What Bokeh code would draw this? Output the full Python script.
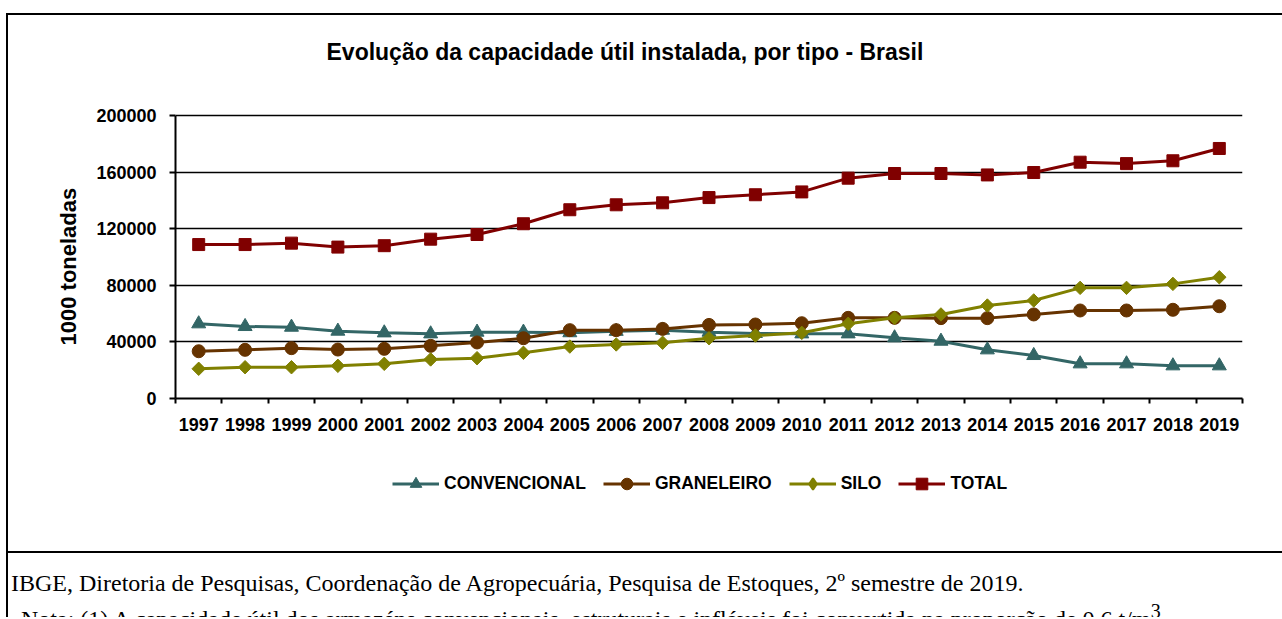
import numpy as np
from bokeh.plotting import figure
from bokeh.models import (ColumnDataSource, FixedTicker, BasicTickFormatter, Legend,
                          LegendItem, Range1d, Div, CustomJSTickFormatter, Title)
from bokeh.layouts import column, row
from bokeh.embed import file_html
from bokeh.resources import INLINE

# ---------------- data ----------------
years = [str(y) for y in range(1997, 2020)]
convencional = [52800, 50900, 50400, 47600, 46400, 45700, 46900, 46900, 46500, 47500,
                48300, 46900, 46000, 45700, 45700, 42900, 40500, 34400, 30400, 24500,
                24500, 23100, 23100]
graneleiro = [33400, 34400, 35600, 34600, 35100, 37200, 39600, 42600, 48300, 48300,
              49200, 52000, 52300, 53200, 57000, 57000, 56800, 56800, 59400, 62200,
              62200, 62700, 65200]
silo = [21000, 22100, 22100, 23100, 24500, 27600, 28500, 32300, 36700, 38200,
        39400, 42600, 44500, 46400, 52800, 57000, 59400, 65700, 69300, 78200,
        78200, 81000, 85700]
total = [108800, 108800, 109800, 107000, 108000, 112600, 115900, 123500, 133400, 136900,
         138300, 142000, 144000, 146000, 155700, 159000, 159000, 158000, 159700, 167000,
         166000, 168000, 176700]
y_ticks = [0, 40000, 80000, 120000, 160000, 200000]
series_names = ["CONVENCIONAL", "GRANELEIRO", "SILO", "TOTAL"]

title_text = "Evolução da capacidade  útil instalada,  por tipo - Brasil"
y_label = "1000 toneladas"
source_text = "IBGE, Diretoria de Pesquisas, Coordenação de Agropecuária, Pesquisa de Estoques, 2º semestre de 2019."
note_text = "Nota: (1) A capacidade útil dos armazéns convencionais, estruturais e infláveis foi convertida na proporção de 0,6 t/m<sup>3</sup>."

# ---------------- styles ----------------
colors = ["#336666", "#663300", "#808000", "#800000"]
FONT = "Liberation Sans"
fields = ["conv", "gran", "silo", "total"]
markers = ["triangle", "circle", "square", "square"]
angles = [0, 0, np.pi / 4, 0]
sizes = [14, 13, 9.5, 12]
legend_markers = ["triangle", "circle", "diamond", "square"]

# layout geometry (pixels)
FRAME_TOP, FRAME_BOTTOM, AXIS_TOP_PX = 70, 383, 100   # axis top (200000) sits at 100px
y_max = y_ticks[-1]
y_range_end = y_max * (FRAME_BOTTOM - FRAME_TOP) / (FRAME_BOTTOM - AXIS_TOP_PX)

x = np.arange(len(years)) + 0.5
src = ColumnDataSource(dict(x=x, conv=convencional, gran=graneleiro, silo=silo, total=total))

# ---------------- main chart ----------------
p = figure(width=1274, height=425, x_range=Range1d(0, len(years)),
           y_range=Range1d(0, y_range_end),
           output_backend="svg", toolbar_location=None,
           min_border_left=167, min_border_right=40, min_border_top=FRAME_TOP,
           min_border_bottom=425 - FRAME_BOTTOM)
p.outline_line_color = None
p.background_fill_color = "white"
p.border_fill_color = "white"

p.title.text = title_text
p.title.text_font = FONT
p.title.text_font_size = "23px"
p.title.text_font_style = "bold"
p.title.text_color = "black"
p.title.align = "left"
p.title.vertical_align = "bottom"
p.title.offset = 151
p.title.standoff = 42

xa = p.xaxis[0]
xa.ticker = FixedTicker(ticks=list(x), minor_ticks=list(range(len(years) + 1)))
xa.formatter = CustomJSTickFormatter(args=dict(labels=years), code="return labels[Math.floor(tick)]")
xa.major_tick_out = 0
xa.major_tick_in = 0
xa.minor_tick_out = 5
xa.minor_tick_in = 0
xa.minor_tick_line_width = 2
xa.minor_tick_line_color = "black"
xa.axis_line_width = 2
xa.axis_line_color = "black"
xa.major_label_standoff = 14
xa.major_label_text_font = FONT
xa.major_label_text_font_size = "18px"
xa.major_label_text_font_style = "bold"
xa.major_label_text_color = "black"

ya = p.yaxis[0]
ya.bounds = (0, y_max)
ya.ticker = FixedTicker(ticks=y_ticks, minor_ticks=[])
ya.formatter = BasicTickFormatter(use_scientific=False)
ya.major_tick_out = 6
ya.major_tick_in = 0
ya.major_tick_line_width = 2
ya.major_tick_line_color = "black"
ya.minor_tick_line_color = None
ya.axis_line_width = 2
ya.axis_line_color = "black"
ya.major_label_standoff = 13
ya.major_label_text_font = FONT
ya.major_label_text_font_size = "18px"
ya.major_label_text_font_style = "bold"
ya.major_label_text_color = "black"

# y-axis title, placed along the 0..200000 part of the axis
y_title = Title(text=y_label, align="left", vertical_align="bottom", offset=53, standoff=26,
                text_font=FONT, text_font_size="22px", text_font_style="bold",
                text_color="black")
p.add_layout(y_title, "left")

p.xgrid.visible = False
p.ygrid.ticker = FixedTicker(ticks=y_ticks)
p.ygrid.grid_line_color = "black"
p.ygrid.grid_line_width = 1.5
p.ygrid.grid_line_alpha = 1.0

for f, c, m, a, s in zip(fields, colors, markers, angles, sizes):
    p.line("x", f, source=src, line_color=c, line_width=3)
    p.scatter("x", f, source=src, marker=m, angle=a, size=s, fill_color=c, line_color=c)

# ---------------- legend strip (inside the chart box) ----------------
lg = figure(width=1274, height=111, x_range=Range1d(0, 1), y_range=Range1d(0, 1),
            output_backend="svg", toolbar_location=None, min_border=0,
            x_axis_location=None, y_axis_location=None)
lg.outline_line_color = None
lg.grid.visible = False
lg.background_fill_color = "white"
lg.border_fill_color = "white"
items = []
for f, name, c, lm in zip(fields, series_names, colors, legend_markers):
    rl = lg.line("x", f, source=src, line_color=c, line_width=3, visible=False)
    rm = lg.scatter("x", f, source=src, marker=lm, fill_color=c, line_color=c,
                    line_width=2 if lm == "diamond" else 1, visible=False)
    items.append(LegendItem(label=name, renderers=[rl, rm]))

legend = Legend(items=items, orientation="horizontal", location=(217, 53),
                glyph_width=47, glyph_height=29, label_standoff=5, spacing=17,
                padding=0, margin=0, border_line_color=None, background_fill_alpha=0,
                label_text_font=FONT, label_text_font_size="17.5px",
                label_text_font_style="bold", label_text_color="black")
lg.add_layout(legend)

# ---------------- frame lines and footer ----------------
top_line = Div(text="", width=1276, height=2, margin=0,
               styles={"background-color": "#000"})
left_line = Div(text="", width=2, height=536, margin=0,
                styles={"background-color": "#000"})

footer_html = (
    '<div style="padding-top:16px;padding-left:3px;font-family:\'Liberation Serif\';'
    'font-size:24px;line-height:28px;color:#000;white-space:nowrap">'
    f'<div>{source_text}</div>'
    f'<div style="padding-left:10px">{note_text}</div>'
    '</div>'
)
footer = Div(text=footer_html, width=1276, height=66, margin=0,
             styles={"border-top": "2px solid #000", "border-left": "2px solid #000",
                     "overflow": "hidden", "box-sizing": "border-box"})

layout = column(top_line, row(left_line, column(p, lg, spacing=0), spacing=0), footer,
                spacing=0, margin=(13, 0, 0, 6))
open("out.html", "w").write(file_html(layout, INLINE))
